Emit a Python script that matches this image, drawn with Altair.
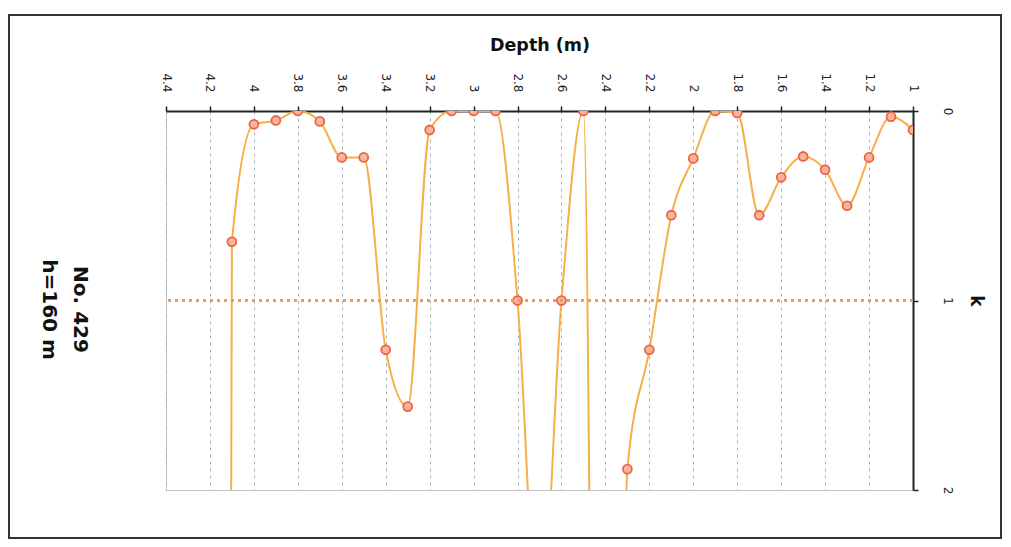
import altair as alt
import pandas as pd

# Depth (m) and k values (values > 2 run off the plot)
DEPTH = [1.0, 1.1, 1.2, 1.3, 1.4, 1.5, 1.6, 1.7, 1.8, 1.9, 2.0, 2.1, 2.2, 2.3,
         2.4, 2.5, 2.6, 2.7, 2.8, 2.9, 3.0, 3.1, 3.2, 3.3, 3.4, 3.5, 3.6, 3.7,
         3.8, 3.9, 4.0, 4.1, 4.2]
K = [0.10, 0.03, 0.245, 0.50, 0.31, 0.24, 0.35, 0.55, 0.01, 0.00, 0.25, 0.55,
     1.26, 1.89, 11.5, 0.00, 1.00, 2.8, 1.00, 0.00, 0.00, 0.00, 0.10, 1.56,
     1.26, 0.245, 0.245, 0.055, 0.00, 0.05, 0.07, 0.69, 40.0]

DEPTH_TICKS = [1.0, 1.2, 1.4, 1.6, 1.8, 2.0, 2.2, 2.4, 2.6, 2.8, 3.0, 3.2,
               3.4, 3.6, 3.8, 4.0, 4.2, 4.4]
K_TICKS = [0.0, 1.0, 2.0]
K_REF = [1]
LABEL_LINES = ["No. 429", "h=160 m"]

W, H = 747, 379
FONT = "DejaVu Sans"
DARK = "#1c2626"

df = pd.DataFrame({"depth": DEPTH, "k": K})

x_enc = alt.X(
    "depth:Q",
    scale=alt.Scale(domain=[1, 4.4], reverse=True, nice=False, zero=False),
    axis=alt.Axis(
        orient="top", values=DEPTH_TICKS, format=".2~f",
        labelAngle=90, labelAlign="right", labelBaseline="middle",
        labelPadding=14, labelFlush=False, labelOverlap=False,
        labelFont=FONT, labelFontSize=12, labelColor="#222222",
        tickSize=5, tickColor=DARK, tickWidth=1.5,
        domainColor=DARK, domainWidth=2,
        grid=True, gridDash=[3, 4], gridColor="#a7b1bb", gridWidth=1,
        title="Depth (m)", titleFont=FONT, titleFontWeight="bold",
        titleFontSize=17.5, titleColor="#111111",
        titleX=W / 2, titleY=-61, titleAlign="center",
        titleBaseline="alphabetic", titleAngle=0,
    ),
)
y_enc = alt.Y(
    "k:Q",
    scale=alt.Scale(domain=[0, 2], reverse=True, nice=False),
    axis=alt.Axis(
        orient="right", values=K_TICKS, format=".2~f",
        labelAngle=90, labelAlign="center", labelBaseline="bottom",
        labelPadding=22, labelFlush=False, labelOverlap=False,
        labelFont=FONT, labelFontSize=12, labelColor="#222222",
        tickSize=5, tickColor=DARK, tickWidth=1.5,
        domainColor=DARK, domainWidth=2, grid=False,
        title="k", titleFont=FONT, titleFontWeight="bold", titleFontSize=17,
        titleColor="#111111", titleAngle=90, titleX=62, titleY=H / 2,
        titleAlign="center", titleBaseline="middle",
    ),
)

base = alt.Chart(df)

line = base.mark_line(
    clip=True, interpolate="monotone", color="#f5b048", strokeWidth=2
).encode(x=x_enc, y=y_enc)

points = base.mark_point(
    clip=True, shape="circle", size=80, filled=True, fill="#f9b49c",
    stroke="#ee6345", strokeWidth=1.8, opacity=1
).encode(x="depth:Q", y="k:Q")

ref = alt.Chart(pd.DataFrame({"k": K_REF})).mark_rule(
    color="#f39a5a", strokeDash=[3, 4], strokeWidth=3
).encode(y="k:Q")

text_layers = []
for label, xo in zip(LABEL_LINES, [-86, -117]):
    text_layers.append(
        alt.Chart(pd.DataFrame({"t": [label]})).mark_text(
            angle=90, font=FONT, fontWeight="bold", fontSize=20, color="#111111",
            align="center", baseline="middle"
        ).encode(text="t:N", x=alt.value(xo), y=alt.value(H / 2 + 9))
    )

frame = alt.Chart(pd.DataFrame({"a": [0]})).mark_rect(
    fillOpacity=0, stroke="#333333", strokeWidth=2
).encode(x=alt.value(-157), x2=alt.value(835), y=alt.value(-96), y2=alt.value(427))

chart = alt.layer(line, points, ref, *text_layers, frame).properties(
    width=W, height=H,
    autosize=alt.AutoSizeParams(type="none"),
    padding={"left": 158, "top": 103, "right": 90, "bottom": 49},
    background="white",
).configure_view(stroke="#c2c2c2", strokeWidth=1)

chart.save("out.html", embed_options={"renderer": "svg", "actions": False})
